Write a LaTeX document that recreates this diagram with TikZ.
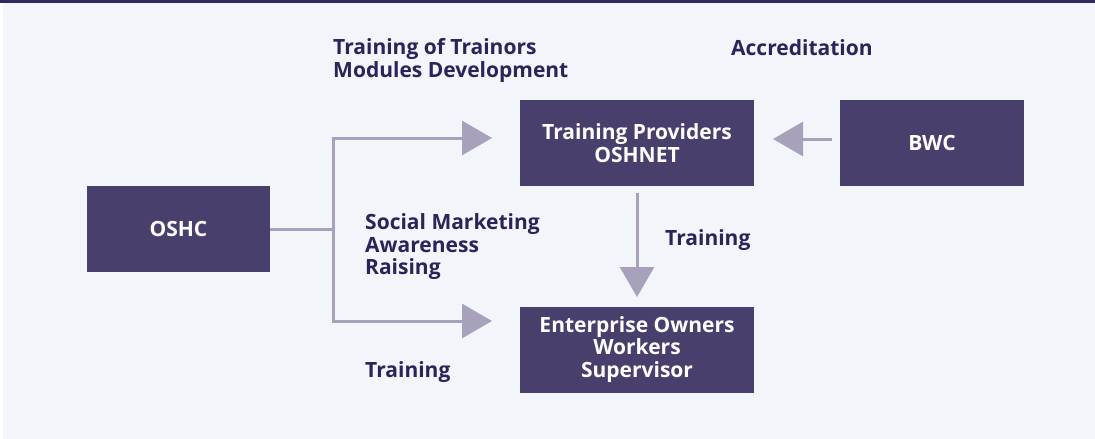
\documentclass[tikz,border=0pt]{standalone}
\usepackage{fontspec}
\setmainfont{Open Sans}
\usetikzlibrary{arrows.meta}
\definecolor{bgc}{HTML}{F2F5F9}
\definecolor{topc}{HTML}{2E2A5E}
\definecolor{boxc}{HTML}{483F6D}
\definecolor{arrc}{HTML}{A8A1BB}
\definecolor{txtc}{HTML}{29255A}
\tikzset{
  box/.style={fill=boxc, text=white, font=\bfseries\fontsize{21}{22.5}\selectfont, align=center, inner sep=0pt},
  lbl/.style={text=txtc, font=\bfseries\fontsize{21}{22.5}\selectfont, align=left, inner sep=0pt},
  conn/.style={draw=arrc, line width=3pt},
  arr/.style={conn, -{Triangle[length=30pt,width=34pt]}},
}
\begin{document}
\begin{tikzpicture}[x=1pt,y=-1pt]
\useasboundingbox (0,0) rectangle (1095,439);
\fill[white] (0,0) rectangle (1095,439);
\fill[bgc] (3,3) rectangle (1095,439);
\fill[topc] (0,0) rectangle (1095,2.5);
% boxes
\node[box, minimum width=183pt, minimum height=86pt] (oshc) at (178.5,229) {OSHC};
\node[box, minimum width=234pt, minimum height=86pt] (tp) at (637,143) {Training Providers\\OSHNET};
\node[box, minimum width=184pt, minimum height=86pt] (bwc) at (932,143) {BWC};
\node[box, minimum width=234pt, minimum height=86pt] (ent) at (637,349.5) {Enterprise Owners\\Workers\\Supervisor};
% labels
\node[lbl, anchor=west] (l1) at (333,60.5) {Training of Trainors\\Modules Development};
\node[lbl, anchor=west] (l2) at (731,48) {Accreditation};
\node[lbl, anchor=west] (l3) at (365,247) {Social Marketing\\Awareness\\Raising};
\node[lbl, anchor=west] (l4) at (665,240) {Training};
\node[lbl, anchor=west] (l5) at (365,372) {Training};
% connectors
\coordinate (j) at (333,229);
\coordinate (t1) at (492,138);
\coordinate (t2) at (492,321);
\draw[conn] (oshc.east) -- (j);
\draw[arr] (j) |- (t1);
\draw[arr] (j) |- (t2);
\coordinate (s3) at (637,193);
\coordinate (t3) at (637,297);
\draw[arr] (s3) -- (t3);
\coordinate (s4) at (832,139);
\coordinate (t4) at (773,139);
\draw[arr] (s4) -- (t4);
\end{tikzpicture}
\end{document}
